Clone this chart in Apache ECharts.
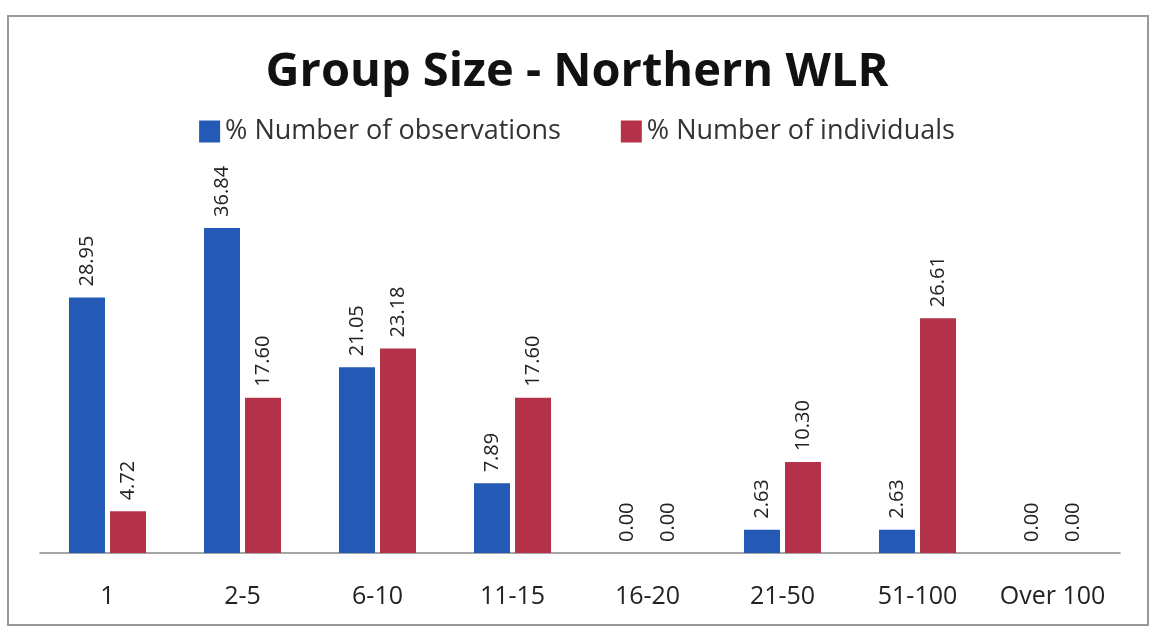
<!DOCTYPE html>
<html><head><meta charset="utf-8">
<script src="https://cdn.jsdelivr.net/npm/echarts@6/dist/echarts.min.js"></script>
<style>html,body{margin:0;padding:0;background:#fff}#c{width:1154px;height:631px}</style>
</head><body><div id="c"></div>
<script>
const categories = ['1','2-5','6-10','11-15','16-20','21-50','51-100','Over 100'];
const observations = [28.95, 36.84, 21.05, 7.89, 0.00, 2.63, 2.63, 0.00];
const individuals = [4.72, 17.60, 23.18, 17.60, 0.00, 10.30, 26.61, 0.00];
const seriesNames = ['% Number of observations', '% Number of individuals'];
const FONT = 'Open Sans';
const lbl = {
  show: true, position: 'top', rotate: 90, align: 'left', verticalAlign: 'middle',
  distance: 11, fontFamily: FONT, fontSize: 20, color: '#222',
  formatter: p => p.value.toFixed(2)
};
const chart = echarts.init(document.getElementById('c'));
chart.setOption({
  animation: false,
  title: { text: 'Group Size - Northern WLR', left: 'center', top: 44,
    textStyle: { fontFamily: FONT, fontWeight: 'bold', fontSize: 47, color: '#111' } },
  legend: { top: 113, left: 'center', itemWidth: 21, itemHeight: 22, itemGap: 60,
    textStyle: { fontFamily: FONT, fontSize: 27, color: '#333' },
    icon: 'rect', data: seriesNames },
  grid: { left: 40, right: 34, top: 200, bottom: 78, containLabel: false },
  xAxis: { type: 'category', data: categories,
    axisLine: { lineStyle: { color: '#888', width: 1.5 } }, axisTick: { show: false },
    axisLabel: { interval: 0, fontFamily: FONT, fontSize: 25, color: '#222', margin: 31 } },
  yAxis: { type: 'value', min: 0, max: 40, show: false, splitLine: { show: false } },
  series: [
    { name: seriesNames[0], type: 'bar', data: observations, barWidth: 36, barGap: '14%',
      itemStyle: { color: '#2459b5' }, label: lbl },
    { name: seriesNames[1], type: 'bar', data: individuals, barWidth: 36,
      itemStyle: { color: '#b3324a' }, label: lbl }
  ],
  graphic: [{ type: 'rect', shape: { x: 8, y: 16, width: 1140, height: 609 },
    style: { fill: 'none', stroke: '#999', lineWidth: 2 } }]
});
</script></body></html>
